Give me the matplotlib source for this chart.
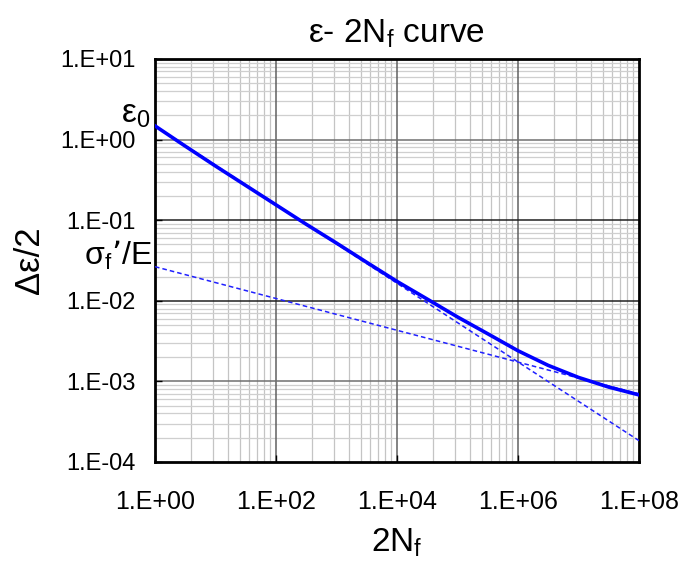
import matplotlib
matplotlib.use('Agg')
import matplotlib.pyplot as plt
import numpy as np
from matplotlib.ticker import FixedLocator, FuncFormatter, NullLocator

# valores
reversals = [1, 3.16, 10, 31.6, 100, 316, 1e3, 3.16e3, 1e4, 3.16e4,
             1e5, 3.16e5, 1e6, 3.16e6, 1e7, 3.16e7, 1e8]
total_strain = [1.48, 0.83, 0.47, 0.27, 0.155, 0.089, 0.052, 0.030, 0.0174,
                0.0105, 0.0063, 0.0039, 0.0024, 0.00158, 0.00112, 0.00085, 0.00068]

elastic_x = [1, 1e8]
elastic_y = [0.0265, 0.00070]
plastic_x = [1, 1e8]
plastic_y = [1.48, 0.000184]

x_major = [1e0, 1e2, 1e4, 1e6, 1e8]
y_major = [1e-4, 1e-3, 1e-2, 1e-1, 1e0, 1e1]

plt.rcParams['font.family'] = ['Liberation Sans', 'DejaVu Sans']
plt.rcParams['mathtext.default'] = 'regular'

fig = plt.figure(figsize=(6.82, 5.69), dpi=100)
ax = fig.add_axes([155 / 682, 107 / 569, 484 / 682, 403 / 569])
ax.set_xscale('log')
ax.set_yscale('log')
ax.set_xlim(1, 1e8)
ax.set_ylim(1e-4, 1e1)

# grilla menor en x: cada celda de 2 decadas dividida como log10(k)
x_minor = [k ** 2 * 100 ** j for j in range(4) for k in range(2, 10)]
y_minor = [k * 10.0 ** j for j in range(-4, 1) for k in range(2, 10)]

for v in x_minor:
    ax.axvline(v, color='#c4c4c4', lw=0.9, zorder=0)
for v in y_minor:
    ax.axhline(v, color='#cfcfcf', lw=0.9, zorder=0)
for v in x_major[1:-1]:
    ax.axvline(v, color='#606060', lw=1.1, zorder=1)
for v in y_major[1:-1]:
    c = '#202020' if v in (1e-1, 1e-2) else '#707070'
    ax.axhline(v, color=c, lw=1.1, zorder=1)

ax.plot(elastic_x, elastic_y, color='#2020ff', lw=1.1, dashes=(3, 2), zorder=3)
ax.plot(plastic_x, plastic_y, color='#2020ff', lw=1.1, dashes=(3, 2), zorder=3)
ax.plot(reversals, total_strain, color='#0000ff', lw=2.6, zorder=4)

ax.xaxis.set_major_locator(FixedLocator(x_major))
ax.yaxis.set_major_locator(FixedLocator(y_major))
ax.xaxis.set_minor_locator(NullLocator())
ax.yaxis.set_minor_locator(NullLocator())
fmt = FuncFormatter(lambda v, p: '1.E%+03d' % round(np.log10(v)))
ax.xaxis.set_major_formatter(fmt)
ax.yaxis.set_major_formatter(fmt)
ax.tick_params(axis='x', direction='in', length=5, width=1, labelsize=18, pad=20)
ax.tick_params(axis='y', direction='in', length=5, width=1, labelsize=17, pad=14)

for s in ax.spines.values():
    s.set_linewidth(2)
    s.set_color('black')

ax.set_title('ε- 2N$_f$ curve', fontsize=24, pad=12)
ax.set_xlabel('2N$_f$', fontsize=24)
ax.xaxis.set_label_coords(0.5, -0.16)
ax.set_ylabel('Δε/2', fontsize=25)
ax.yaxis.set_label_coords(-0.225, 0.5)

ax.text(-0.01, 0.841, 'ε$_0$', transform=ax.transAxes, ha='right',
        va='baseline', fontsize=24)
ax.text(-0.005, 0.489, 'σ$_f$’/E', transform=ax.transAxes, ha='right',
        va='baseline', fontsize=23)

fig.savefig('out.png', dpi=100)
